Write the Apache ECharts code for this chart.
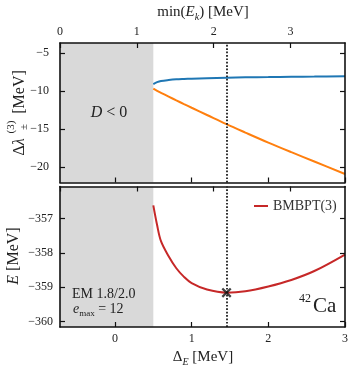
<!DOCTYPE html>
<html>
<head>
<meta charset="utf-8">
<script src="https://cdn.jsdelivr.net/npm/echarts@6/dist/echarts.min.js"></script>
<style>
  html, body { margin: 0; padding: 0; background: #fff; }
  #chart { width: 353px; height: 369px; }
</style>
</head>
<body>
<div id="chart"></div>
<script>
// data (x = Delta_E in MeV)
var deltaE = [0.5, 0.55, 0.6, 0.7, 0.8, 0.9, 1.0, 1.2, 1.455, 1.7, 2.0, 2.3, 2.6, 3.0];
var lambdaPlus = [-9.1, -8.85, -8.7, -8.57, -8.48, -8.43, -8.39, -8.33, -8.27, -8.22, -8.18, -8.14, -8.11, -8.07];
var lambdaMinus = [-9.7, -9.99, -10.25, -10.75, -11.25, -11.74, -12.22, -13.17, -14.38, -15.48, -16.8, -18.06, -19.29, -20.93];
var energy = [-356.62, -357.2, -357.66, -358.1, -358.45, -358.7, -358.88, -359.07, -359.16, -359.12, -358.98, -358.79, -358.53, -358.05];
var minimum = [1.455, -359.16];
var shadeEnd = 0.5;

var deltaTicks = [0, 1, 2, 3];
var ekTicks = [0, 1, 2, 3];
var lamTicks = [-20, -15, -10, -5];
var eTicks = [-360, -359, -358, -357];

var deltaMin = -0.717, deltaMax = 3;
var ekMin = 0, ekMax = 3.71;

var serif = '"Liberation Serif", "DejaVu Serif", serif';
var ink = '#111';

function pairs(xs, ys) {
    return xs.map(function (x, i) { return [x, ys[i]]; });
}
function minus(v) { return String(v).replace('-', '\u2212'); }

function axis(gridIndex, position, min, max, ticks, showLabels, margin) {
    return {
        type: 'value', gridIndex: gridIndex, position: position, min: min, max: max, z: 10,
        axisLine: { show: true, onZero: false, lineStyle: { color: ink, width: 1.6 } },
        axisTick: { show: true, inside: true, length: 5, customValues: ticks, lineStyle: { color: ink, width: 1.2 } },
        axisLabel: { show: showLabels, customValues: ticks, margin: margin, fontFamily: serif, fontSize: 12, color: '#222', formatter: minus },
        splitLine: { show: false }
    };
}

var myChart = echarts.init(document.getElementById('chart'));

var shade = {
    silent: true,
    itemStyle: { color: '#d9d9d9' },
    label: { show: false },
    data: [[{ xAxis: deltaMin }, { xAxis: shadeEnd }]]
};
var dotted = {
    silent: true,
    symbol: 'none',
    label: { show: false },
    lineStyle: { color: '#111', width: 1.7, type: [1.7, 1.7] },
    data: [{ xAxis: minimum[0] }]
};

var txt = { fill: '#222', align: 'center', verticalAlign: 'middle', textAlign: 'center', textVerticalAlign: 'middle' };
function text(x, y, s, size, extra) {
    var style = Object.assign({}, txt, { text: s, font: size + 'px ' + serif }, extra || {});
    return { type: 'text', x: x, y: y, z: 100, style: style };
}

var option = {
    animation: false,
    backgroundColor: '#fff',
    grid: [
        { left: 60, top: 43, width: 285, height: 139.5 },
        { left: 60, top: 186.5, width: 285, height: 140.5 }
    ],
    xAxis: [
        axis(0, 'bottom', deltaMin, deltaMax, deltaTicks, false, 6),
        axis(0, 'top', ekMin, ekMax, ekTicks, true, 5),
        axis(1, 'bottom', deltaMin, deltaMax, deltaTicks, true, 6),
        axis(1, 'top', ekMin, ekMax, ekTicks, false, 5)
    ],
    yAxis: [
        axis(0, 'left', -22.05, -3.7, lamTicks, true, 11),
        axis(0, 'right', -22.05, -3.7, lamTicks, false, 8),
        axis(1, 'left', -360.16, -356.07, eTicks, true, 7),
        axis(1, 'right', -360.16, -356.07, eTicks, false, 8)
    ],
    legend: {
        data: ['BMBPT(3)'],
        left: 254, top: 199, padding: 0,
        icon: 'rect', itemWidth: 14, itemHeight: 2,
        textStyle: { fontFamily: serif, fontSize: 14, color: '#333' }
    },
    series: [
        {
            name: 'lambda+', type: 'line', xAxisIndex: 0, yAxisIndex: 0,
            data: pairs(deltaE, lambdaPlus), smooth: 0.35, showSymbol: false,
            lineStyle: { color: '#1f77b4', width: 2 }, itemStyle: { color: '#1f77b4' },
            markArea: shade
        },
        {
            name: 'lambda-', type: 'line', xAxisIndex: 0, yAxisIndex: 0,
            data: pairs(deltaE, lambdaMinus), smooth: 0.35, showSymbol: false,
            lineStyle: { color: '#ff7f0e', width: 2 }, itemStyle: { color: '#ff7f0e' },
            markLine: dotted
        },
        {
            name: 'BMBPT(3)', type: 'line', xAxisIndex: 2, yAxisIndex: 2,
            data: pairs(deltaE, energy), smooth: 0.35, showSymbol: false,
            lineStyle: { color: '#c62828', width: 2 }, itemStyle: { color: '#c62828' },
            markArea: shade, markLine: dotted
        },
        {
            name: 'min', type: 'scatter', xAxisIndex: 2, yAxisIndex: 2, z: 5,
            data: [minimum],
            symbol: 'path://M0,1.6L1.6,0L5,3.4L8.4,0L10,1.6L6.6,5L10,8.4L8.4,10L5,6.6L1.6,10L0,8.4L3.4,5Z',
            symbolSize: 10, itemStyle: { color: '#111' }
        }
    ],
    graphic: [
        // axis titles
        text(203, 12, '{n|min(}{i|E}{s|k}{n|) [MeV]}', 15, {
            rich: {
                n: { fontFamily: serif, fontSize: 15, lineHeight: 20, verticalAlign: 'middle', fill: '#222' },
                i: { fontFamily: serif, fontSize: 15, fontStyle: 'italic', lineHeight: 20, verticalAlign: 'middle', fill: '#222' },
                s: { fontFamily: serif, fontSize: 10, fontStyle: 'italic', lineHeight: 20, verticalAlign: 'bottom', fill: '#222' }
            }
        }),
        text(203, 357, '{n|\u0394}{s|E}{n| [MeV]}', 15, {
            rich: {
                n: { fontFamily: serif, fontSize: 15, lineHeight: 20, verticalAlign: 'middle', fill: '#222' },
                s: { fontFamily: serif, fontSize: 10, fontStyle: 'italic', lineHeight: 20, verticalAlign: 'bottom', fill: '#222' }
            }
        }),
        // top y title, rotated
        Object.assign(text(19.5, 147, '\u0394{i|\u03bb}', 16, {
            rich: { i: { fontFamily: serif, fontSize: 16, fontStyle: 'italic', fill: '#222' } }
        }), { rotation: Math.PI / 2 }),
        Object.assign(text(11, 127, '(3)', 11), { rotation: Math.PI / 2 }),
        Object.assign(text(24, 127, '\u00b1', 11), { rotation: Math.PI / 2 }),
        Object.assign(text(19.5, 92, '[MeV]', 16), { rotation: Math.PI / 2 }),
        // bottom y title, rotated
        Object.assign(text(14, 256, '{i|E} [MeV]', 16, {
            rich: { i: { fontFamily: serif, fontSize: 16, fontStyle: 'italic', fill: '#222' } }
        }), { rotation: Math.PI / 2 }),
        // annotations
        text(109, 113, '{i|D} < 0', 16, {
            rich: { i: { fontFamily: serif, fontSize: 16, fontStyle: 'italic', fill: '#222' } }
        }),
        text(72, 294, 'EM 1.8/2.0', 14, { align: 'left', textAlign: 'left' }),
        text(73, 309, '{i|e}{s|max}{n| = 12}', 14, {
            align: 'left', textAlign: 'left',
            rich: {
                n: { fontFamily: serif, fontSize: 14, lineHeight: 18, verticalAlign: 'middle', fill: '#222' },
                i: { fontFamily: serif, fontSize: 14, fontStyle: 'italic', lineHeight: 18, verticalAlign: 'middle', fill: '#222' },
                s: { fontFamily: serif, fontSize: 9, lineHeight: 18, verticalAlign: 'bottom', fill: '#222' }
            }
        }),
        text(305, 299, '42', 12),
        text(313, 306, 'Ca', 21, { align: 'left', textAlign: 'left' })
    ]
};

myChart.setOption(option);
</script>
</body>
</html>
